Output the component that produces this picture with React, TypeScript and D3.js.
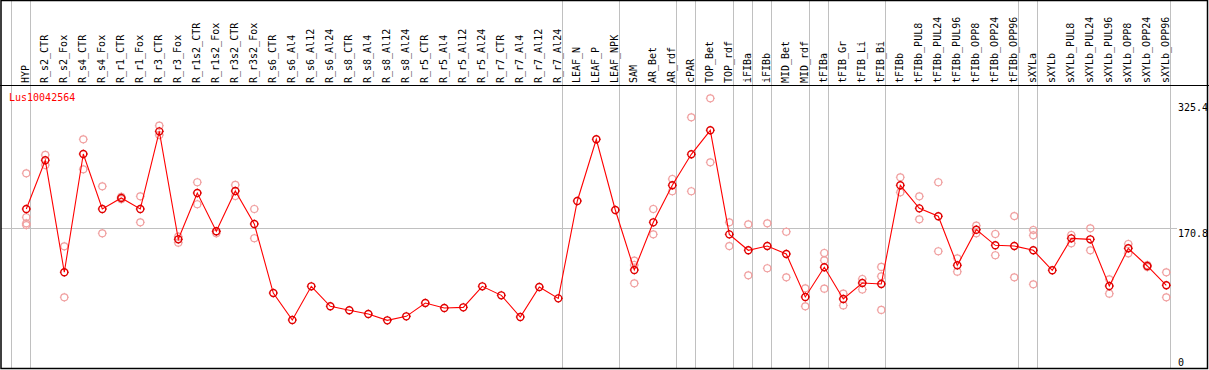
import React from "react";
import * as d3 from "d3";

// sample labels (one column each)
const labels = [
  "HYP", "R_s2_CTR", "R_s2_Fox", "R_s4_CTR", "R_s4_Fox", "R_r1_CTR", "R_r1_Fox", "R_r3_CTR", "R_r3_Fox",
  "R_r1s2_CTR", "R_r1s2_Fox", "R_r3s2_CTR", "R_r3s2_Fox", "R_s6_CTR", "R_s6_Al4", "R_s6_Al12", "R_s6_Al24",
  "R_s8_CTR", "R_s8_Al4", "R_s8_Al12", "R_s8_Al24", "R_r5_CTR", "R_r5_Al4", "R_r5_Al12", "R_r5_Al24",
  "R_r7_CTR", "R_r7_Al4", "R_r7_Al12", "R_r7_Al24", "LEAF_N", "LEAF_P", "LEAF_NPK", "SAM", "AR_Bet", "AR_rdf",
  "cPAR", "TOP_Bet", "TOP_rdf", "iFIBa", "iFIBb", "MID_Bet", "MID_rdf", "tFIBa", "tFIB_Gr", "tFIB_Li", "tFIB_Bi",
  "tFIBb", "tFIBb_PUL8", "tFIBb_PUL24", "tFIBb_PUL96", "tFIBb_OPP8", "tFIBb_OPP24", "tFIBb_OPP96", "sXYLa",
  "sXYLb", "sXYLb_PUL8", "sXYLb_PUL24", "sXYLb_PUL96", "sXYLb_OPP8", "sXYLb_OPP24", "sXYLb_OPP96",
];

// mean expression per sample
const means = [
  194.5, 254.1, 117.1, 261.8, 194.5, 208.0, 194.5, 289.5, 157.4, 214.1, 167.2, 216.5, 176.2, 91.7, 58.7,
  99.9, 75.5, 70.6, 66.1, 58.3, 63.2, 79.5, 73.4, 74.2, 99.9, 88.9, 62.4, 99.1, 85.2,
  204.3, 279.8, 193.3, 119.9, 178.2, 223.5, 261.4, 290.8, 163.5, 144.0, 149.2, 139.5, 86.9, 123.2, 84.4,
  104.0, 102.8, 223.5, 195.3, 185.6, 125.6, 169.2, 150.1, 149.2, 144.0, 119.5, 158.6, 157.4, 100.3, 146.4,
  124.8, 101.2,
];

// individual replicates per sample
const replicates = [
  [238.2, 184.4, 177.0, 174.9], [260.6, 248.3], [148.9, 86.5], [279.8, 243.1], [222.3, 164.8],
  [209.5, 206.5], [210.0, 178.2], [296.4, 285.0], [160.6, 153.3], [227.2, 200.3], [167.2, 164.8],
  [223.9, 210.4], [194.5, 158.7], [], [], [], [], [], [], [], [], [], [], [], [], [], [], [], [],
  [], [], [], [131.3, 126.0, 103.6], [194.5, 163.5], [231.2, 216.2], [306.7, 216.2], [329.9, 251.6],
  [178.2, 149.2], [175.8, 113.4], [177.0, 122.0], [166.7, 110.9], [97.5, 75.5], [140.7, 131.7, 97.0],
  [90.9, 76.5], [108.9, 96.0], [123.6, 112.2, 71.0], [233.3, 214.9], [210.0, 181.9], [227.2, 142.8],
  [134.2, 117.8], [174.1, 164.8], [163.9, 137.9], [185.9, 110.9], [168.8, 162.3, 102.4], [],
  [162.7, 152.5], [170.9, 144.0], [108.5, 90.9], [151.7, 140.3], [126.0, 123.5], [117.1, 86.5],
];

// last column index of each group (separator drawn after it)
const groupEnds = [-1, 0, 28, 31, 34, 35, 37, 38, 39, 41, 42, 45, 52, 53, 60];
const axisMax = 325.4;
const axisMid = 170.8;
const geneId = "Lus10042564";

const W = 1209;
const H = 370;
const font = "'DejaVu Sans Mono', monospace";

function Marker({ cx, cy, color, width }) {
  const r = 3.5;
  // small ticks at the four sides, like the original raster markers
  const ticks = `M${cx},${cy - r - 1}v1.2M${cx},${cy + r + 1}v-1.2M${cx - r - 1},${cy}h1.2M${cx + r + 1},${cy}h-1.2`;
  return (
    <g>
      <circle cx={cx} cy={cy} r={r} fill="none" stroke={color} strokeWidth={width} />
      <path d={ticks} stroke={color} strokeWidth={1} />
    </g>
  );
}

export default function App() {
  const x = d3.scaleLinear().domain([0, labels.length - 1]).range([26.3, 1166.3]);
  const y = d3.scaleLinear().domain([0, axisMax]).range([368, 102]);

  const line = d3
    .line<number>()
    .x((d, i) => x(i))
    .y((d) => y(d));

  return (
    <svg
      width={W}
      height={H}
      style={{ position: "absolute", left: 0, top: 0, background: "#fff" }}
      fontFamily={font}
      fontSize={10}
    >
      <rect width={W} height={H} fill="#fff" />
      {/* group separators */}
      {groupEnds.map((g) => (
        <line
          key={g}
          x1={Math.round(x(g) + 4) + 0.5}
          x2={Math.round(x(g) + 4) + 0.5}
          y1={1}
          y2={368}
          stroke="#c0c0c0"
          strokeWidth={1}
        />
      ))}
      {/* mid reference line */}
      <line x1={1} x2={1177} y1={Math.round(y(axisMid)) + 0.5} y2={Math.round(y(axisMid)) + 0.5} stroke="#c0c0c0" />
      {/* column labels */}
      {labels.map((l, i) => (
        <text key={l} transform={`translate(${x(i) + 2.8},83) rotate(-90)`} fill="#000">
          {l}
        </text>
      ))}
      <line x1={0} x2={W} y1={85.5} y2={85.5} stroke="#000" />
      <text x={9} y={100.5} fill="#ff0000">
        {geneId}
      </text>
      {/* right axis labels */}
      <text x={1178} y={y(axisMax) + 8.5} fill="#000">{axisMax}</text>
      <text x={1178} y={y(axisMid) + 8.5} fill="#000">{axisMid}</text>
      <text x={1178} y={y(0) - 2.5} fill="#000">0</text>
      {/* replicates */}
      {replicates.map((reps, i) =>
        reps.map((v, j) => <Marker key={`${i}-${j}`} cx={x(i)} cy={y(v)} color="#f0a0a0" width={1.2} />)
      )}
      <path d={line(means)} fill="none" stroke="#ff0000" strokeWidth={1.1} />
      {means.map((v, i) => (
        <Marker key={i} cx={x(i)} cy={y(v)} color="#e00000" width={1.4} />
      ))}
      {/* frame */}
      <rect x={1} y={0.5} width={1206.5} height={368} fill="none" stroke="#000" strokeWidth={1.5} />
    </svg>
  );
}
